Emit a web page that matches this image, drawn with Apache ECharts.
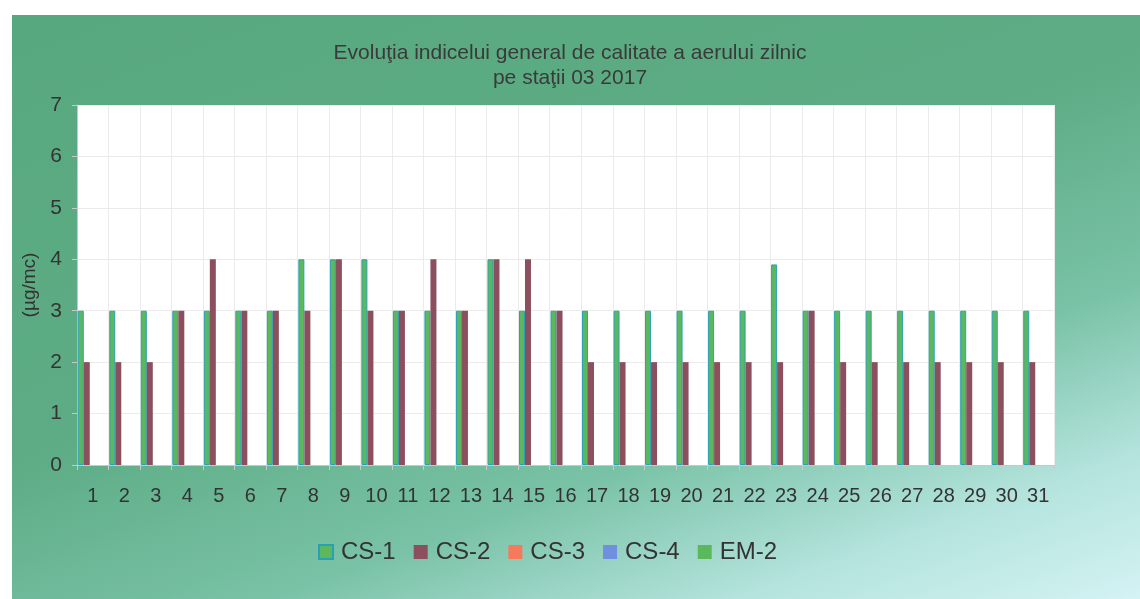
<!DOCTYPE html>
<html>
<head>
<meta charset="utf-8">
<script src="https://cdn.jsdelivr.net/npm/echarts@6/dist/echarts.min.js"></script>
<style>
  html, body { margin: 0; padding: 0; background: #fff; }
  #panel {
    position: absolute; left: 12px; top: 15px; width: 1128px; height: 584px;
    background: linear-gradient(160deg, #58a87f 0%, #5dac85 45%, #79c2a6 68%, #b3e3dc 85%, #d4f3f4 100%);
  }
  #main { position: absolute; left: 0; top: 0; width: 1140px; height: 599px; }
</style>
</head>
<body>
<div id="panel"></div>
<div id="main"></div>
<script>
// zile
const days = ['1','2','3','4','5','6','7','8','9','10','11','12','13','14','15','16',
        '17','18','19','20','21','22','23','24','25','26','27','28','29','30','31'];
// statii
const cs1 = [3,3,3,3,3,3,3,4,4,4,3,3,3,4,3,3,3,3,3,3,3,3,3.9,3,3,3,3,3,3,3,3];
const cs2 = [2,2,2,3,4,3,3,3,4,3,3,4,3,4,4,3,2,2,2,2,2,2,2,3,2,2,2,2,2,2,2];
const cs3 = [];
const cs4 = [];
const em2 = [];

const seriesNames = ['CS-1', 'CS-2', 'CS-3', 'CS-4', 'EM-2'];
const seriesColors = ['#5cb85c', '#8b4f5e', '#f7795c', '#6f8fdf', '#5cb85c'];

let chart = echarts.init(document.getElementById('main'), null, { renderer: 'canvas' });

const mkSeries = (i, data) => {
        let s = {
                name: seriesNames[i],
                type: 'bar',
                barWidth: 6,
                barGap: '0%',
                data: data,
                itemStyle: { color: seriesColors[i] }
        };
        if (i == 0) {
                s.itemStyle.borderColor = '#2a9fb8';
                s.itemStyle.borderWidth = 1;
        }
        return s;
}

let option = {
        backgroundColor: 'transparent',
        animation: false,
        title: {
                text: 'Evoluţia indicelui general de calitate a aerului zilnic\npe staţii 03 2017',
                left: 'center',
                top: 36,
                textStyle: {
                        fontFamily: 'Liberation Sans',
                        fontSize: 21,
                        fontWeight: 'normal',
                        color: '#3a3a3a',
                        lineHeight: 25
                }
        },
        grid: {
                left: 77,
                right: 86,
                top: 105,
                bottom: 134,
                show: true,
                backgroundColor: '#fff',
                borderWidth: 0
        },
        legend: {
                bottom: 30,
                left: 313,
                itemWidth: 14,
                itemHeight: 14,
                itemGap: 18,
                icon: 'rect',
                textStyle: {
                        fontFamily: 'Liberation Sans',
                        fontSize: 24,
                        color: '#333',
                        padding: [0, 0, 0, 3]
                },
                data: seriesNames
        },
        xAxis: {
                type: 'category',
                data: days,
                axisLine: { lineStyle: { color: '#c8c8c8' } },
                axisTick: { show: true, length: 5, lineStyle: { color: '#c8c8c8' } },
                splitLine: { show: true, lineStyle: { color: '#ebebeb' } },
                axisLabel: {
                        interval: 0,
                        margin: 21,
                        fontFamily: 'Liberation Sans',
                        fontSize: 20,
                        color: '#333'
                }
        },
        yAxis: {
                type: 'value',
                min: 0,
                max: 7,
                interval: 1,
                name: '(µg/mc)',
                nameLocation: 'middle',
                nameRotate: 90,
                nameGap: 38,
                nameTextStyle: {
                        fontFamily: 'Liberation Sans',
                        fontSize: 19,
                        color: '#333'
                },
                axisLine: { show: true, lineStyle: { color: '#c8c8c8' } },
                axisTick: { show: true, length: 5, lineStyle: { color: '#c8c8c8' } },
                splitLine: { show: true, lineStyle: { color: '#ebebeb' } },
                axisLabel: {
                        margin: 15,
                        fontFamily: 'Liberation Sans',
                        fontSize: 21,
                        color: '#333'
                }
        },
        series: [
                mkSeries(0, cs1),
                mkSeries(1, cs2),
                mkSeries(2, cs3),
                mkSeries(3, cs4),
                mkSeries(4, em2)
        ]
};

chart.setOption(option);
</script>
</body>
</html>
